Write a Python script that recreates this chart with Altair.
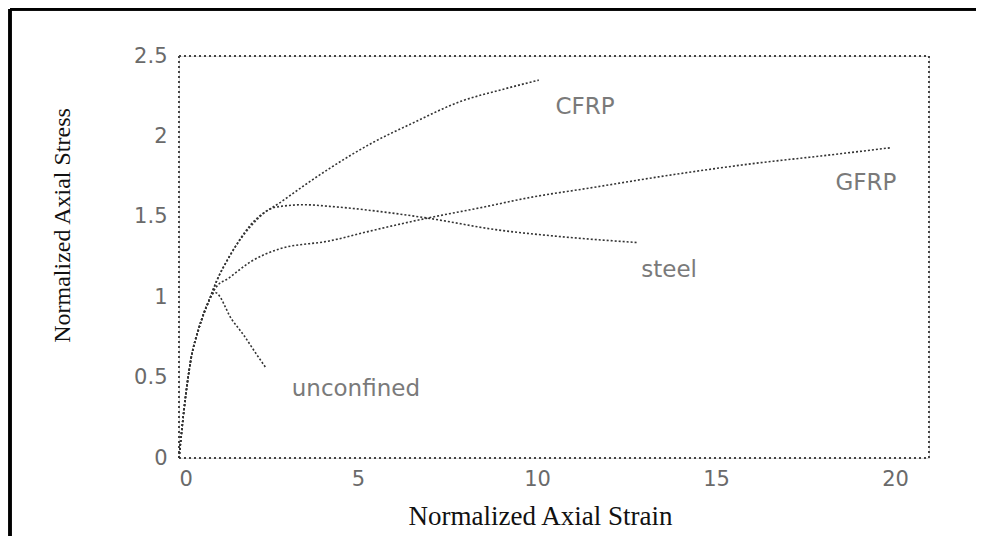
import altair as alt
import pandas as pd

# ---- data ----
unconfined_x = [0, 0.14, 0.33, 0.56, 0.84, 1.0, 1.48, 1.82, 2.18, 2.43]
unconfined_y = [0, 0.30, 0.61, 0.81, 0.98, 1.03, 0.86, 0.76, 0.64, 0.56]

cfrp_x = [0, 0.14, 0.33, 0.56, 0.84, 1.05, 1.4, 2.0, 2.9, 4.2, 5.4, 6.5, 7.9, 9.0, 10.05]
cfrp_y = [0, 0.30, 0.61, 0.81, 0.98, 1.10, 1.25, 1.45, 1.60, 1.80, 1.96, 2.08, 2.22, 2.29, 2.35]

steel_x = [0, 0.14, 0.33, 0.56, 0.84, 1.05, 1.4, 2.0, 2.7, 3.5, 4.2, 6.06, 7.0, 8.85, 10.5, 12.8]
steel_y = [0, 0.30, 0.61, 0.81, 0.98, 1.10, 1.25, 1.44, 1.56, 1.575, 1.565, 1.52, 1.49, 1.42, 1.38, 1.34]

gfrp_x = [0, 0.14, 0.33, 0.56, 0.84, 1.03, 1.4, 2.0, 2.8, 4.2, 5.5, 6.9, 8.5, 9.8, 11.5, 13.3, 16.0, 18.0, 19.9]
gfrp_y = [0, 0.30, 0.61, 0.81, 0.98, 1.06, 1.12, 1.22, 1.30, 1.35, 1.42, 1.49, 1.56, 1.62, 1.68, 1.745, 1.83, 1.88, 1.93]

label_names = ["CFRP", "GFRP", "steel", "unconfined"]
label_x = [11.34, 19.19, 13.69, 4.94]
label_y = [2.18, 1.71, 1.17, 0.43]

x_ticks = [0, 5, 10, 15, 20]
y_ticks = [0, 0.5, 1, 1.5, 2, 2.5]

# ---- build table ----
rows = []
for name, xs, ys in [("unconfined", unconfined_x, unconfined_y),
                     ("CFRP", cfrp_x, cfrp_y),
                     ("steel", steel_x, steel_y),
                     ("GFRP", gfrp_x, gfrp_y)]:
    for i, (a, b) in enumerate(zip(xs, ys)):
        rows.append({"series": name, "order": i, "strain": a, "stress": b})
df = pd.DataFrame(rows)
labels = pd.DataFrame({"name": label_names, "strain": label_x, "stress": label_y})

x_scale = alt.Scale(domain=[0, 20.95], nice=False, zero=False)
y_scale = alt.Scale(domain=[0, 2.5], nice=False)

x_axis = alt.Axis(values=x_ticks, format="~g", title="Normalized Axial  Strain", grid=False,
                  domain=False, ticks=False, labelFont="DejaVu Sans", labelFontSize=21,
                  labelColor="#6a6a6a", labelPadding=10, titleFont="Liberation Serif",
                  titleFontSize=27, titleFontWeight="normal", titleColor="#111",
                  titleX=361, titleY=58, titleBaseline="middle", titleAlign="center")
y_axis = alt.Axis(values=y_ticks, format="~g", title="Normalized Axial Stress", grid=False,
                  domain=False, ticks=False, labelFont="DejaVu Sans", labelFontSize=21,
                  labelColor="#6a6a6a", labelPadding=12, titleFont="Liberation Serif",
                  titleFontSize=24, titleFontWeight="normal", titleColor="#111",
                  titleX=-117, titleY=169, titleBaseline="middle", titleAlign="center",
                  titleAngle=-90)

lines = alt.Chart(df).mark_line(interpolate="monotone", color="#333", strokeWidth=1.6,
                                strokeDash=[2, 2]).encode(
    x=alt.X("strain:Q", scale=x_scale, axis=x_axis),
    y=alt.Y("stress:Q", scale=y_scale, axis=y_axis),
    detail="series:N",
    order="order:Q",
)

texts = alt.Chart(labels).mark_text(font="DejaVu Sans", fontSize=23, color="#7a7a7a",
                                    align="center", baseline="middle").encode(
    x=alt.X("strain:Q", scale=x_scale),
    y=alt.Y("stress:Q", scale=y_scale),
    text="name:N",
)

# dotted plot-area frame (decoration)
box_style = dict(color="#444", strokeWidth=1.5, strokeDash=[2, 3])
box_top = alt.Chart(labels).mark_rule(**box_style).encode(
    x=alt.value(0), x2=alt.value(750), y=alt.value(0))
box_bottom = alt.Chart(labels).mark_rule(**box_style).encode(
    x=alt.value(0), x2=alt.value(750), y=alt.value(402))
box_left = alt.Chart(labels).mark_rule(**box_style).encode(
    x=alt.value(0), y=alt.value(0), y2=alt.value(402))
box_right = alt.Chart(labels).mark_rule(**box_style).encode(
    x=alt.value(750), y=alt.value(0), y2=alt.value(402))

# outer figure frame (decoration)
frame_left = alt.Chart(labels).mark_rule(color="#000", strokeWidth=3).encode(
    x=alt.value(-169), y=alt.value(-47), y2=alt.value(490))
frame_top = alt.Chart(labels).mark_rule(color="#000", strokeWidth=3).encode(
    x=alt.value(-169), x2=alt.value(805), y=alt.value(-47))

chart = alt.layer(box_top, box_bottom, box_left, box_right, lines, texts,
                  frame_left, frame_top).properties(
    width=750, height=402,
    autosize=alt.AutoSizeParams(type="none"),
    padding={"left": 171, "top": 48, "right": 47, "bottom": 78},
).configure_view(
    strokeWidth=0
).configure(background="white")

chart.save("out.html", embed_options={"renderer": "svg", "actions": False})
